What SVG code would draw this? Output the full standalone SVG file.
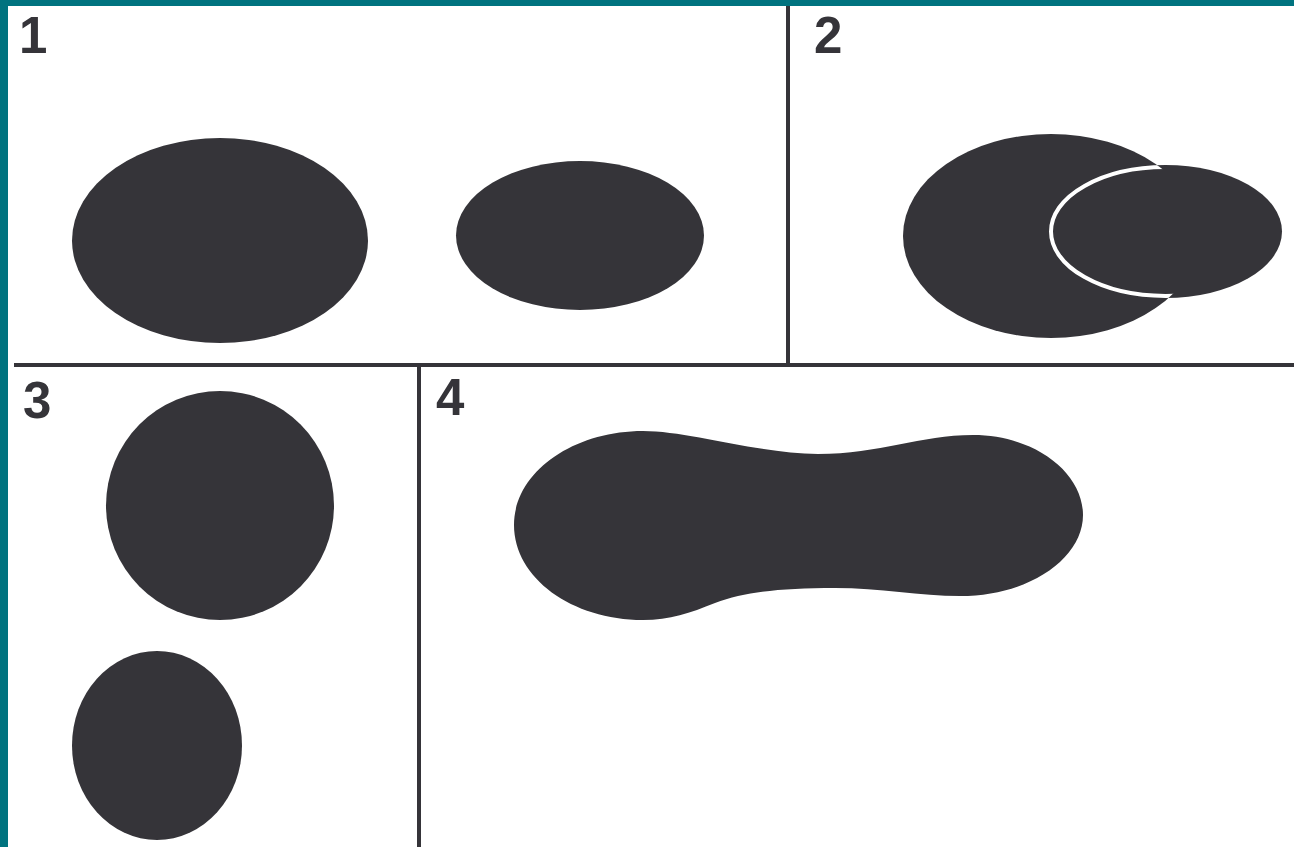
<svg xmlns="http://www.w3.org/2000/svg" width="1294" height="847" viewBox="0 0 1294 847">
<style>
.ink{fill:#353439}
.rule{stroke:#353439;stroke-width:4;fill:none}
.num{font-family:"Liberation Sans",Arial,sans-serif;font-weight:bold;font-size:51px;fill:#353439}
</style>
<defs>
<clipPath id="bigClip"><ellipse cx="1051" cy="236" rx="148" ry="102"/></clipPath>
</defs>
<rect x="0" y="0" width="1294" height="847" fill="#ffffff"/>
<rect x="0" y="0" width="1294" height="6" fill="#00737f"/>
<rect x="0" y="0" width="8" height="847" fill="#00737f"/>
<g id="dividers">
<line class="rule" x1="788" y1="6" x2="788" y2="363"/>
<line class="rule" x1="14" y1="365" x2="1294" y2="365"/>
<line class="rule" x1="419" y1="367" x2="419" y2="847"/>
</g>
<g id="panel1">
<text class="num" x="19" y="53">1</text>
<ellipse class="ink" cx="220" cy="240.5" rx="148" ry="102.5"/>
<ellipse class="ink" cx="580" cy="235.5" rx="124" ry="74.5"/>
</g>
<g id="panel2">
<text class="num" x="814" y="53">2</text>
<ellipse class="ink" cx="1051" cy="236" rx="148" ry="102"/>
<ellipse class="ink" cx="1165.5" cy="231.5" rx="116.5" ry="66.5"/>
<ellipse cx="1165.5" cy="231.5" rx="114.5" ry="64.5" fill="none" stroke="#ffffff" stroke-width="4" clip-path="url(#bigClip)"/>
</g>
<g id="panel3">
<text class="num" x="23" y="418">3</text>
<ellipse class="ink" cx="220" cy="505.5" rx="114" ry="114.5"/>
<ellipse class="ink" cx="157" cy="745.5" rx="85" ry="94.5"/>
</g>
<g id="panel4">
<text class="num" x="436" y="415">4</text>
<path class="ink" d="M514,525 C514,473 572,431 643,431 C690,431 760,454 818,454 C880,454 920,435 973,435 C1034,435 1083,472 1083,515 C1083,558 1030,596 960,596 C920,596 880,588 835,588 C780,588 745,592 715,603 C690,613 670,620 643,620 C572,620 514,578 514,525 Z"/>
</g>
</svg>
